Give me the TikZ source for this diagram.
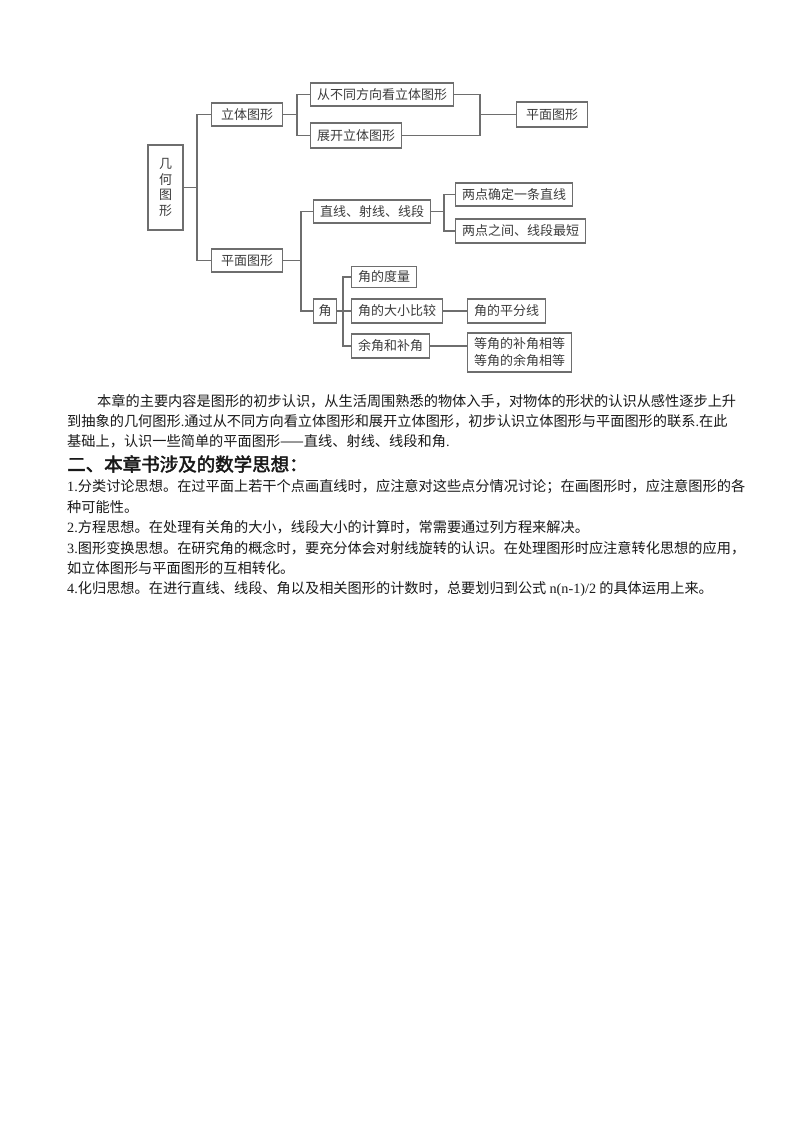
\documentclass[tikz,border=0pt]{standalone}
\usepackage{fontspec}
\setmainfont{Noto Sans CJK SC}
\newfontfamily\lat{Liberation Serif}
\newfontfamily\headfont[FakeBold=2.5]{Noto Sans CJK SC}
\definecolor{boxline}{HTML}{6E6E6E}
\definecolor{boxtext}{HTML}{3C3C3C}
\begin{document}
\begin{tikzpicture}[x=1pt, y=-1pt,
  box/.style={draw=boxline, line width=1.2pt, text=boxtext, font=\fontsize{13}{17}\selectfont,
    inner xsep=6.5pt, inner ysep=0pt, minimum height=23pt, anchor=west},
  link/.style={draw=boxline, line width=1.2pt},
  txt/.style={anchor=west, inner sep=0pt, text=black!90, font=\fontsize{14.2}{17}\selectfont}]
  \fill[white] (0,0) rectangle (800,1132);
  \useasboundingbox (0,0) rectangle (800,1132);
  % the chart
  \node[box, anchor=center, minimum width=35pt, minimum height=85pt, inner xsep=0pt, align=center,
    font=\fontsize{13}{15.5}\selectfont] (gh) at (165.5,187.5) {几\\何\\图\\形};
  \node[box, minimum width=71pt] (lt) at (211,114.5) {立体图形};
  \node[box] (cb) at (310,94.5) {从不同方向看立体图形};
  \node[box, minimum height=25pt] (zk) at (310,135.5) {展开立体图形};
  \node[box, minimum width=71pt, minimum height=25pt] (pm2) at (516,114.5) {平面图形};
  \node[box, minimum width=71pt] (pm) at (211,260.5) {平面图形};
  \node[box] (zx) at (313,211.5) {直线、射线、线段};
  \node[box] (ld1) at (455,194.5) {两点确定一条直线};
  \node[box, minimum height=24pt] (ld2) at (455,231) {两点之间、线段最短};
  \node[box, minimum width=23pt, inner xsep=0pt, minimum height=24pt] (jiao) at (313,311) {角};
  \node[box, minimum height=21pt] (jd) at (351,277) {角的度量};
  \node[box, minimum height=24pt] (jb) at (351,311) {角的大小比较};
  \node[box, minimum height=24pt] (pf) at (467,311) {角的平分线};
  \node[box, minimum height=24pt] (yb) at (351,346) {余角和补角};
  \node[box, minimum height=39pt, align=center] (dj) at (467,352.5) {等角的补角相等\\等角的余角相等};
  \coordinate (bA) at (197,187.5);
  \coordinate (bB) at (297,114.5);
  \coordinate (bC) at (480,114.5);
  \coordinate (bD) at (301,260.5);
  \coordinate (bE) at (444,211.5);
  \coordinate (bF) at (343,311);
  \draw[link] (gh.east) -- (bA);
  \draw[link] (lt.west) -| (bA);
  \draw[link] (pm.west) -| (bA);
  \draw[link] (lt.east) -- (bB);
  \draw[link] (cb.west) -| (bB);
  \draw[link] (zk.west) -| (bB);
  \draw[link] (cb.east) -| (bC);
  \draw[link] (zk.east) -| (bC);
  \draw[link] (bC) -- (pm2.west);
  \draw[link] (pm.east) -- (bD);
  \draw[link] (zx.west) -| (bD);
  \draw[link] (jiao.west) -| (bD);
  \draw[link] (zx.east) -- (bE);
  \draw[link] (ld1.west) -| (bE);
  \draw[link] (ld2.west) -| (bE);
  \draw[link] (jiao.east) -- (bF);
  \draw[link] (jd.west) -| (bF);
  \draw[link] (jb.west) -- (bF);
  \draw[link] (yb.west) -| (bF);
  \draw[link] (jb.east) -- (pf.west);
  \draw[link] (yb.east) -- (yb.east -| dj.west);
  % the text below
  \node[txt] (p1) at (97,401) {本章的主要内容是图形的初步认识，从生活周围熟悉的物体入手，对物体的形状的认识从感性逐步上升};
  \node[txt] (p2) at (67,421) {到抽象的几何图形{\lat .}通过从不同方向看立体图形和展开立体图形，初步认识立体图形与平面图形的联系{\lat .}在此};
  \node[txt] (p3) at (67,441) {基础上，认识一些简单的平面图形——直线、射线、线段和角{\lat .}};
  \node[txt, font=\fontsize{18.5}{20}\headfont] (h2) at (67,464) {二、本章书涉及的数学思想：};
  \node[txt] (q1) at (67,487) {{\lat 1.}分类讨论思想。在过平面上若干个点画直线时，应注意对这些点分情况讨论；在画图形时，应注意图形的各};
  \node[txt] (q1b) at (67,507) {种可能性。};
  \node[txt] (q2) at (67,527) {{\lat 2.}方程思想。在处理有关角的大小，线段大小的计算时，常需要通过列方程来解决。};
  \node[txt] (q3) at (67,548) {{\lat 3.}图形变换思想。在研究角的概念时，要充分体会对射线旋转的认识。在处理图形时应注意转化思想的应用，};
  \node[txt] (q3b) at (67,568) {如立体图形与平面图形的互相转化。};
  \node[txt] (q4) at (67,589) {{\lat 4.}化归思想。在进行直线、线段、角以及相关图形的计数时，总要划归到公式 {\lat n(n-1)/2} 的具体运用上来。};
\end{tikzpicture}
\end{document}
